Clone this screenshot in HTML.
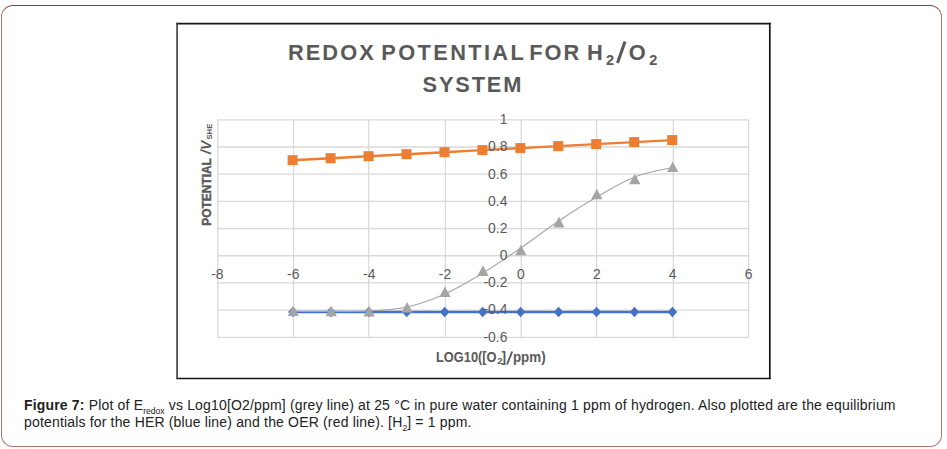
<!DOCTYPE html>
<html><head><meta charset="utf-8">
<style>
html,body{margin:0;padding:0;background:#fff;}
body{width:947px;height:449px;position:relative;overflow:hidden;font-family:"Liberation Sans",sans-serif;}
.box{position:absolute;left:1px;top:5px;width:939px;height:440px;border:1px solid #a57a72;border-top-color:#8a3d2c;border-radius:12px;}
svg{position:absolute;left:0;top:0;}
.cap{position:absolute;left:24px;top:397px;width:910px;font-size:14px;letter-spacing:0.17px;line-height:16.6px;color:#222;}
.cap sub{font-size:8.6px;vertical-align:-3.5px;line-height:0;letter-spacing:0;}
</style></head><body>
<div class="box"></div>
<svg width="947" height="449" viewBox="0 0 947 449">
<g stroke-width="1.7" fill="none"><line x1="176.2" y1="23.6" x2="770.7" y2="23.6" stroke="#151515"/><line x1="769.8" y1="22.8" x2="769.8" y2="379.1" stroke="#151515"/><line x1="176.2" y1="378.5" x2="770.7" y2="378.5" stroke="#151515"/><line x1="177.1" y1="22.8" x2="177.1" y2="379.1" stroke="#444"/></g>
<g font-family="Liberation Sans, sans-serif" font-weight="bold" fill="#595959" text-anchor="middle">
<g transform="translate(289.5,59.8) scale(0.965,1)"><text x="-1.6" y="0" font-size="22.6" letter-spacing="2.13" text-anchor="start">REDOX</text></g>
<g transform="translate(382.9,59.8) scale(0.965,1)"><text x="-1.6" y="0" font-size="22.6" letter-spacing="2.45" text-anchor="start">POTENTIAL</text></g>
<g transform="translate(530.7,59.8) scale(0.965,1)"><text x="-1.6" y="0" font-size="22.6" letter-spacing="2.13" text-anchor="start">FOR</text></g>
<g transform="translate(588.5,59.8) scale(0.965,1)"><text x="-1.6" y="0" font-size="22.6" text-anchor="start">H</text></g>
<g transform="translate(606.5,65.2) scale(0.965,1)"><text x="-0.6" y="0" font-size="15" text-anchor="start">2</text></g>
<path d="M617.5,63 L625,41.5" stroke="#595959" stroke-width="3.1" fill="none"/>
<g transform="translate(629.7,59.8) scale(0.965,1)"><text x="-1.1" y="0" font-size="22.6" text-anchor="start">O</text></g>
<g transform="translate(649.8,65.2) scale(0.965,1)"><text x="-0.6" y="0" font-size="15" text-anchor="start">2</text></g>
<g transform="translate(423.6,91.7) scale(0.965,1)"><text x="-1.1" y="0" font-size="22.6" letter-spacing="1.9" text-anchor="start">SYSTEM</text></g>
<text transform="translate(436.9,361.9) scale(0.93,1)" x="-1" font-size="13.8" text-anchor="start">LOG10([O</text>
<text transform="translate(497.6,364.2)" x="-0.3" font-size="9.6" text-anchor="start">2</text>
<text transform="translate(502.2,361.9)" x="-0.8" font-size="13.8" text-anchor="start">]</text>
<path d="M507,364.5 L512.2,351.5" stroke="#595959" stroke-width="1.9" fill="none"/>
<text transform="translate(513.8,361.9) scale(0.97,1)" x="-0.9" font-size="13.8" text-anchor="start">ppm)</text>
<text transform="translate(211.2,225) rotate(-90) scale(0.92,1)" x="-0.9" font-size="13" stroke="#595959" stroke-width="0.4" text-anchor="start">POTENTIAL</text>
<text transform="translate(211.4,154) rotate(-90)" x="0" font-size="14" font-style="italic" text-anchor="start">/V</text>
<text transform="translate(211.7,139.2) rotate(-90) scale(1.05,1)" x="-0.4" font-size="7.4" text-anchor="start">SHE</text>
</g>
<g stroke="#d9d9d9" stroke-width="1.3" fill="none"><line x1="217.80" y1="119.79" x2="217.80" y2="337.34"/><line x1="293.60" y1="119.79" x2="293.60" y2="337.34"/><line x1="368.80" y1="119.79" x2="368.80" y2="337.34"/><line x1="445.40" y1="119.79" x2="445.40" y2="337.34"/><line x1="521.20" y1="119.79" x2="521.20" y2="337.34"/><line x1="596.60" y1="119.79" x2="596.60" y2="337.34"/><line x1="673.30" y1="119.79" x2="673.30" y2="337.34"/><line x1="748.60" y1="119.79" x2="748.60" y2="337.34"/><line x1="217.61" y1="119.79" x2="748.72" y2="119.79"/><line x1="217.61" y1="146.98" x2="748.72" y2="146.98"/><line x1="217.61" y1="174.18" x2="748.72" y2="174.18"/><line x1="217.61" y1="201.37" x2="748.72" y2="201.37"/><line x1="217.61" y1="228.57" x2="748.72" y2="228.57"/><line x1="217.61" y1="255.76" x2="748.72" y2="255.76"/><line x1="217.61" y1="282.95" x2="748.72" y2="282.95"/><line x1="217.61" y1="310.15" x2="748.72" y2="310.15"/><line x1="217.61" y1="337.34" x2="748.72" y2="337.34"/></g>
<line x1="292.9" y1="312.0" x2="672.4" y2="312.0" stroke="#4472c4" stroke-width="2.3"/>
<path d="M292.9,306.7 L297.7,312.0 L292.9,317.3 L288.1,312.0Z" fill="#4472c4"/>
<path d="M330.9,306.7 L335.7,312.0 L330.9,317.3 L326.1,312.0Z" fill="#4472c4"/>
<path d="M368.8,306.7 L373.6,312.0 L368.8,317.3 L364.0,312.0Z" fill="#4472c4"/>
<path d="M406.8,306.7 L411.6,312.0 L406.8,317.3 L401.9,312.0Z" fill="#4472c4"/>
<path d="M444.7,306.7 L449.5,312.0 L444.7,317.3 L439.9,312.0Z" fill="#4472c4"/>
<path d="M482.7,306.7 L487.5,312.0 L482.7,317.3 L477.9,312.0Z" fill="#4472c4"/>
<path d="M520.6,306.7 L525.4,312.0 L520.6,317.3 L515.8,312.0Z" fill="#4472c4"/>
<path d="M558.6,306.7 L563.4,312.0 L558.6,317.3 L553.8,312.0Z" fill="#4472c4"/>
<path d="M596.5,306.7 L601.3,312.0 L596.5,317.3 L591.7,312.0Z" fill="#4472c4"/>
<path d="M634.5,306.7 L639.2,312.0 L634.5,317.3 L629.7,312.0Z" fill="#4472c4"/>
<path d="M672.4,306.7 L677.2,312.0 L672.4,317.3 L667.6,312.0Z" fill="#4472c4"/>
<path d="M293.1,311.4 C299.4,311.4 318.4,311.5 331.1,311.4 C343.7,311.3 356.4,311.7 369.0,311.0 C381.6,310.3 394.3,309.8 406.9,307.0 C419.6,304.2 432.2,299.7 444.9,294.0 C457.6,288.3 470.2,280.7 482.9,273.0 C495.5,265.3 508.2,256.7 520.8,248.0 C533.5,239.3 546.1,229.5 558.8,221.0 C571.4,212.5 584.1,204.3 596.7,197.0 C609.4,189.7 622.0,181.9 634.7,177.0 C647.3,172.1 666.3,169.1 672.6,167.5" fill="none" stroke="#a5a5a5" stroke-width="1.05"/>
<path d="M293.2,305.5 L298.8,316.1 L287.6,316.1Z" fill="#a5a5a5"/>
<path d="M331.2,305.7 L336.8,316.3 L325.6,316.3Z" fill="#a5a5a5"/>
<path d="M369.1,305.9 L374.7,316.5 L363.5,316.5Z" fill="#a5a5a5"/>
<path d="M407.1,302.0 L412.7,312.6 L401.4,312.6Z" fill="#a5a5a5"/>
<path d="M445.0,286.4 L450.6,297.0 L439.4,297.0Z" fill="#a5a5a5"/>
<path d="M483.0,265.3 L488.6,275.9 L477.4,275.9Z" fill="#a5a5a5"/>
<path d="M520.9,244.7 L526.5,255.3 L515.3,255.3Z" fill="#a5a5a5"/>
<path d="M558.9,216.8 L564.5,227.4 L553.2,227.4Z" fill="#a5a5a5"/>
<path d="M596.8,188.7 L602.4,199.3 L591.2,199.3Z" fill="#a5a5a5"/>
<path d="M634.8,173.7 L640.4,184.3 L629.1,184.3Z" fill="#a5a5a5"/>
<path d="M672.7,161.4 L678.3,172.0 L667.1,172.0Z" fill="#a5a5a5"/>
<polyline points="292.6,160.2 330.6,158.2 368.6,156.2 406.5,154.2 444.5,152.2 482.4,150.1 520.4,148.1 558.3,146.1 596.2,144.1 634.2,142.1 672.2,140.1" fill="none" stroke="#ed7d31" stroke-width="2.4"/>
<rect x="287.6" y="155.2" width="10" height="10" fill="#ed7d31"/>
<rect x="325.6" y="153.2" width="10" height="10" fill="#ed7d31"/>
<rect x="363.6" y="151.2" width="10" height="10" fill="#ed7d31"/>
<rect x="401.5" y="149.2" width="10" height="10" fill="#ed7d31"/>
<rect x="439.5" y="147.2" width="10" height="10" fill="#ed7d31"/>
<rect x="477.4" y="145.1" width="10" height="10" fill="#ed7d31"/>
<rect x="515.4" y="143.1" width="10" height="10" fill="#ed7d31"/>
<rect x="553.3" y="141.1" width="10" height="10" fill="#ed7d31"/>
<rect x="591.2" y="139.1" width="10" height="10" fill="#ed7d31"/>
<rect x="629.2" y="137.1" width="10" height="10" fill="#ed7d31"/>
<rect x="667.2" y="135.1" width="10" height="10" fill="#ed7d31"/>
<g font-family="Liberation Sans, sans-serif" font-size="14.2" fill="#595959"><text transform="translate(507.4,124.1) scale(0.98,1)" text-anchor="end">1</text><text transform="translate(507.4,151.3) scale(0.98,1)" text-anchor="end">0.8</text><text transform="translate(507.4,178.5) scale(0.98,1)" text-anchor="end">0.6</text><text transform="translate(507.4,205.7) scale(0.98,1)" text-anchor="end">0.4</text><text transform="translate(507.4,232.9) scale(0.98,1)" text-anchor="end">0.2</text><text transform="translate(507.4,260.1) scale(0.98,1)" text-anchor="end">0</text><text transform="translate(507.4,287.3) scale(0.98,1)" text-anchor="end">-0.2</text><text transform="translate(507.4,314.4) scale(0.98,1)" text-anchor="end">-0.4</text><text transform="translate(507.4,341.6) scale(0.98,1)" text-anchor="end">-0.6</text><text transform="translate(217.4,278.6) scale(0.98,1)" text-anchor="middle">-8</text><text transform="translate(293.3,278.6) scale(0.98,1)" text-anchor="middle">-6</text><text transform="translate(369.2,278.6) scale(0.98,1)" text-anchor="middle">-4</text><text transform="translate(445.0,278.6) scale(0.98,1)" text-anchor="middle">-2</text><text transform="translate(520.9,278.6) scale(0.98,1)" text-anchor="middle">0</text><text transform="translate(596.8,278.6) scale(0.98,1)" text-anchor="middle">2</text><text transform="translate(672.6,278.6) scale(0.98,1)" text-anchor="middle">4</text><text transform="translate(748.5,278.6) scale(0.98,1)" text-anchor="middle">6</text></g>
</svg>
<div class="cap"><b>Figure 7:</b> Plot of E<sub>redox</sub> vs Log10[O2/ppm] (grey line) at 25 °C in pure water containing 1 ppm of hydrogen. Also plotted are the equilibrium potentials for the HER (blue line) and the OER (red line). [H<sub>2</sub>] = 1 ppm.</div>
</body></html>
